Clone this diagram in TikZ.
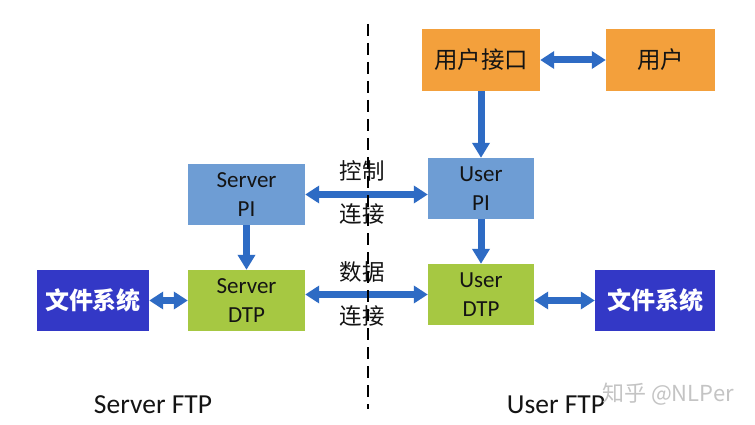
\documentclass[tikz,border=0pt]{standalone}
\usepackage{fontspec}
\setmainfont{Carlito}
\newfontfamily\cjk{Noto Sans CJK SC}
\usetikzlibrary{arrows.meta,calc}
\definecolor{orangebox}{HTML}{F3A03C}
\definecolor{pibox}{HTML}{6E9DD4}
\definecolor{dtpbox}{HTML}{A6C842}
\definecolor{fsbox}{HTML}{3338C6}
\definecolor{arrowblue}{HTML}{2E6BC4}
\definecolor{txt}{HTML}{141414}
\definecolor{wm}{HTML}{C4C4C4}
\tikzset{
  box/.style={rectangle, inner sep=0pt, align=center, text=txt},
  obox/.style={box, fill=orangebox, font=\cjk\fontsize{23.5}{28}\selectfont},
  pbox/.style={box, fill=pibox, font=\fontsize{23}{29}\selectfont},
  gbox/.style={box, fill=dtpbox, font=\fontsize{23}{29}\selectfont},
  fbox/.style={box, fill=fsbox, text=white, font=\cjk\bfseries\fontsize{24}{28}\selectfont},
  conn/.style={draw=arrowblue, line width=7pt},
  bi/.style={conn, {Triangle[length=14pt,width=17pt]}-{Triangle[length=14pt,width=17pt]}},
  uni/.style={conn, -{Triangle[length=15pt,width=17pt]}},
  lbl/.style={font=\cjk\fontsize{22.5}{26}\selectfont, text=txt, inner sep=0pt},
  foot/.style={font=\fontsize{27.5}{32}\selectfont, text=txt, inner sep=0pt}
}
\begin{document}
\begin{tikzpicture}[x=1pt,y=-1pt]
\useasboundingbox (0,0) rectangle (755,425);
\fill[white] (0,0) rectangle (755,425);
% boxes
\node[obox, minimum width=118pt, minimum height=62pt] (ui) at (481,60) {用户接口};
\node[obox, minimum width=109pt, minimum height=62pt] (user) at (660.5,60) {用户};
\node[pbox, minimum width=106pt, minimum height=61pt] (upi) at (481,188.5) {User\\PI};
\node[pbox, minimum width=117pt, minimum height=61pt] (spi) at (246.5,194.5) {Server\\PI};
\node[gbox, minimum width=117pt, minimum height=61pt] (sdtp) at (246.5,300.5) {Server\\DTP};
\node[gbox, minimum width=106pt, minimum height=61pt] (udtp) at (481,294.5) {User\\DTP};
\node[fbox, minimum width=112pt, minimum height=61pt] (fsl) at (93,300.5) {文件系统};
\node[fbox, minimum width=120pt, minimum height=61pt] (fsr) at (655,300.5) {文件系统};
% labels
\node[lbl] (l1) at (362,171) {控制};
\node[lbl] (l2) at (362,214) {连接};
\node[lbl] (l3) at (362,272) {数据};
\node[lbl] (l4) at (362,316) {连接};
\node[foot] (sftp) at (153,405) {Server FTP};
\node[foot] (uftp) at (556,405) {User FTP};
\node[font=\cjk\fontsize{22}{26}\selectfont, text=wm, inner sep=0pt] (wmk) at (668,394) {知乎 @NLPer};
% connectors
\draw[bi] (ui.east) -- (user.west);
\draw[uni] (ui.south) -- (upi.north);
\draw[bi] (spi.east) -- (spi.east -| upi.west);
\draw[uni] (spi.south) -- (sdtp.north);
\draw[uni] (upi.south) -- (udtp.north);
\draw[bi] (fsl.east) -- (sdtp.west);
\draw[bi] (udtp.west -| sdtp.east) -- (udtp.west);
\draw[bi] (fsr.west -| udtp.east) -- (fsr.west);
% divider
\coordinate (dtop) at (368,24);
\coordinate (dbot) at (368,409);
\draw[line width=2.6pt, dash pattern=on 12pt off 7pt] (dtop) -- (dbot);
\end{tikzpicture}
\end{document}
